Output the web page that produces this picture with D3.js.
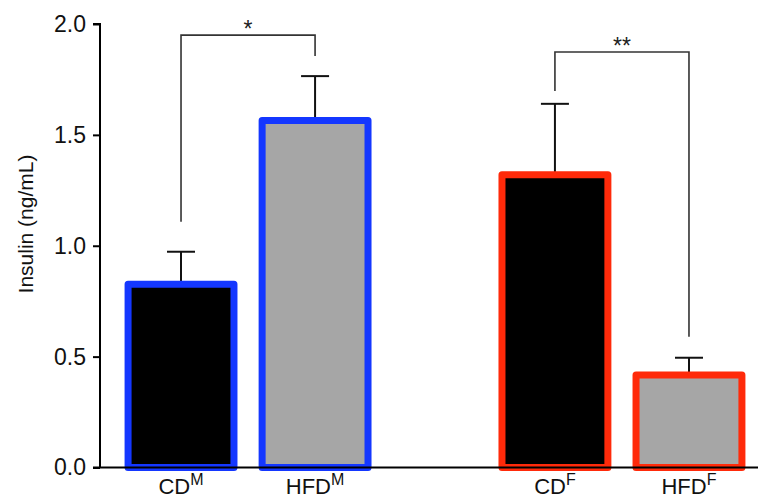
<!DOCTYPE html>
<html>
<head>
<meta charset="utf-8">
<script src="https://cdn.jsdelivr.net/npm/d3@7"></script>
<style>
  body { margin: 0; background: #fff; }
  text { font-family: "Liberation Sans", Arial, sans-serif; }
</style>
</head>
<body>
<div id="chart"></div>
<script>
// Insulin by diet and sex
const groups = ["M", "F"];
const diets = ["CD", "HFD"];
const means = [0.826, 1.565, 1.32, 0.417];
const sems = [0.147, 0.2, 0.32, 0.078];
const yTicks = [0, 0.5, 1.0, 1.5, 2.0];

// significance brackets: [from bar, to bar, top, left leg end, right leg end, label]
const bracketFrom = [0, 2];
const bracketTo = [1, 3];
const bracketTop = [1.95, 1.874];
const bracketLeftEnd = [1.108, 1.698];
const bracketRightEnd = [1.856, 0.59];
const bracketLabels = ["*", "**"];

const width = 758;
const height = 499;
const margin = { top: 24, right: 2, bottom: 31, left: 100 };

const bars = [];
groups.forEach((g, gi) => {
    diets.forEach((d, di) => {
        const i = gi * diets.length + di;
        bars.push({ group: g, diet: d, mean: means[i], sem: sems[i] });
    });
});

const svg = d3.select("#chart")
    .append("svg")
    .attr("width", width)
    .attr("height", height);

const x0 = d3.scaleBand()
    .domain(groups)
    .range([114, width - margin.right])
    .paddingInner(0.283)
    .paddingOuter(0);

const x1 = d3.scaleBand()
    .domain(diets)
    .range([0, x0.bandwidth()])
    .padding(0);

const y = d3.scaleLinear()
    .domain([0, 2])
    .range([height - margin.bottom - 0.5, margin.top]);

const barW = x1.bandwidth() * 0.79;
const cx = d => x0(d.group) + x1(d.diet) + x1.bandwidth() / 2;

const edge = { M: "#1437ff", F: "#ff2a0a" };
const fill = { CD: "#000000", HFD: "#a6a6a6" };

// error bars (upper only)
const err = svg.append("g")
    .attr("stroke", "#111")
    .attr("stroke-width", 2);

err.selectAll("line.stem")
    .data(bars)
    .enter()
    .append("line")
    .attr("class", "stem")
    .attr("x1", cx)
    .attr("x2", cx)
    .attr("y1", d => y(d.mean))
    .attr("y2", d => y(d.mean + d.sem));

err.selectAll("line.cap")
    .data(bars)
    .enter()
    .append("line")
    .attr("class", "cap")
    .attr("x1", d => cx(d) - 14)
    .attr("x2", d => cx(d) + 14)
    .attr("y1", d => y(d.mean + d.sem))
    .attr("y2", d => y(d.mean + d.sem));

// bars
svg.selectAll("rect.bar")
    .data(bars)
    .enter()
    .append("rect")
    .attr("class", "bar")
    .attr("x", d => cx(d) - barW / 2)
    .attr("y", d => y(d.mean))
    .attr("width", barW)
    .attr("height", d => y(0) - y(d.mean))
    .attr("fill", d => fill[d.diet])
    .attr("stroke", d => edge[d.group])
    .attr("stroke-width", 7)
    .attr("stroke-linejoin", "round");

// significance brackets
const br = svg.append("g")
    .attr("fill", "none")
    .attr("stroke", "#333")
    .attr("stroke-width", 1.6);

bracketFrom.forEach((a, i) => {
    const xa = cx(bars[a]);
    const xb = cx(bars[bracketTo[i]]);
    br.append("path")
        .attr("d", `M${xa},${y(bracketLeftEnd[i])}V${y(bracketTop[i])}H${xb}V${y(bracketRightEnd[i])}`);
    svg.append("text")
        .attr("x", (xa + xb) / 2)
        .attr("y", y(bracketTop[i]) + 2)
        .attr("text-anchor", "middle")
        .attr("font-size", 23)
        .attr("fill", "#222")
        .text(bracketLabels[i]);
});

// y axis
const yAxis = d3.axisLeft(y)
    .tickValues(yTicks)
    .tickFormat(d3.format(".1f"))
    .tickSize(7)
    .tickPadding(7);

const gy = svg.append("g")
    .attr("transform", `translate(${margin.left},0)`)
    .call(yAxis);

gy.select(".domain").attr("stroke", "#000").attr("stroke-width", 2)
    .attr("d", `M-7,${y(2)}H0V${y(0)}`);
gy.selectAll(".tick line").attr("stroke", "#000").attr("stroke-width", 2);
gy.selectAll(".tick text")
    .attr("font-size", 23)
    .attr("fill", "#111")
    .attr("font-family", "'Liberation Sans', Arial, sans-serif");

// x axis line
svg.append("line")
    .attr("x1", margin.left - 7)
    .attr("x2", width)
    .attr("y1", y(0))
    .attr("y2", y(0))
    .attr("stroke", "#000")
    .attr("stroke-width", 2);

// x labels with superscripts
const xl = svg.selectAll("text.xlab")
    .data(bars)
    .enter()
    .append("text")
    .attr("class", "xlab")
    .attr("x", cx)
    .attr("y", 494)
    .attr("text-anchor", "middle")
    .attr("font-size", 22)
    .attr("fill", "#111");

xl.append("tspan").text(d => d.diet);
xl.append("tspan")
    .attr("font-size", 16)
    .attr("dy", -9)
    .text(d => d.group);

// y axis title
svg.append("text")
    .attr("transform", "rotate(-90)")
    .attr("x", -224)
    .attr("y", 33)
    .attr("text-anchor", "middle")
    .attr("font-size", 21)
    .attr("fill", "#111")
    .text("Insulin (ng/mL)");
</script>
</body>
</html>
